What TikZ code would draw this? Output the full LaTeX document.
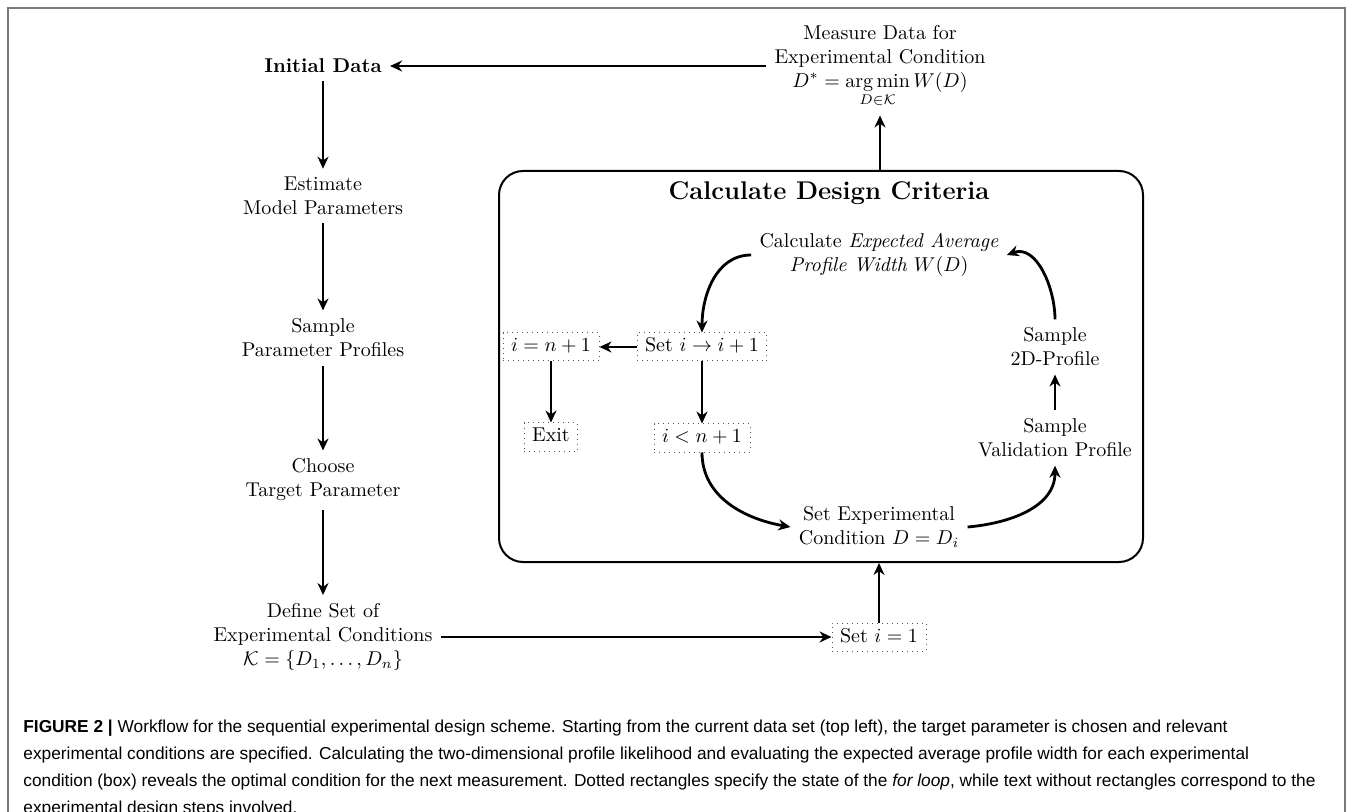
\documentclass[tikz,border=0pt]{standalone}
\usepackage{amsmath}
\usepackage{fontspec}
\newfontfamily\legende{Liberation Sans}
\definecolor{cadre}{HTML}{7A7A7A}
\definecolor{pointille}{HTML}{555555}
\usetikzlibrary{positioning,arrows.meta}

\begin{document}
\begin{tikzpicture}[x=0.5pt,y=-0.5pt,
  flow/.style={-{Stealth[length=6pt,width=5.5pt]},line width=1.4pt},
  etape/.style={align=center,inner sep=4pt},
  boucle/.style={draw=pointille,dotted,line width=0.5pt,inner xsep=4pt,inner ysep=0pt,
    minimum height=14pt,text height=7pt,text depth=2pt}
]
\useasboundingbox (0,0) rectangle (1354,812);
% ---- cadre ----
\draw[cadre,line width=0.8pt] (8,812) -- (8,8) -- (1345,8) -- (1345,812);
% ---- colonne de gauche ----
\node[etape,font=\bfseries] (init) at (323,66) {Initial Data};
\node[etape] (estimate) at (323,196) {Estimate\\Model Parameters};
\node[etape] (sample) at (323,338) {Sample\\Parameter Profiles};
\node[etape] (choose) at (323,480) {Choose\\Target Parameter};
\node[etape] (define) at (323,637) {Define Set of\\Experimental Conditions\\$\mathcal{K}=\{D_1,\dots,D_n\}$};
\node[etape] (measure) at (880,66) {Measure Data for\\Experimental Condition\\$D^*=\mathop{\mathrm{arg\,min}}\limits_{D\in\mathcal{K}}W(D)$};
\foreach \a/\b in {init/estimate, estimate/sample, sample/choose, choose/define}{
  \draw[flow] (\a) -- (\b);
}
% ---- boite des criteres ----
\node[draw,line width=1pt,rounded corners=12pt,minimum width=322pt,minimum height=195.5pt] (criteria) at (821,366.5) {};
\node[font=\fontsize{12.8}{15}\selectfont\bfseries] (titre) at (829,193) {Calculate Design Criteria};
\node[etape] (calc) at (879,255) {Calculate \textit{Expected Average}\\\textit{Profile Width} $W(D)$};
\node[boucle] (setnext) at (702,347) {Set $i\rightarrow i+1$};
\node[boucle] (stop) at (551,347) {$i=n+1$};
\node[boucle] (exitbox) at (551,437) {Exit};
\node[boucle] (cont) at (702,438) {$i<n+1$};
\node[etape] (setcond) at (879,527) {Set Experimental\\Condition $D=D_i$};
\node[etape] (valid) at (1055,438) {Sample\\Validation Profile};
\node[etape] (twod) at (1055,347) {Sample\\2D-Profile};
\node[boucle] (seti) at (879,637) {Set $i=1$};
% ---- fleches ----
\draw[flow] (define) -- (seti);
\draw[flow] (seti) -- (seti |- criteria.south);
\draw[flow] (criteria.north -| measure) -- (measure);
\draw[flow] (measure.west |- init) -- (init);
\draw[flow] (calc.west) to[out=180,in=90] (setnext);
\draw[flow] (setnext) -- (stop);
\draw[flow] (stop) -- (exitbox);
\draw[flow] (setnext) -- (cont);
\draw[flow] (cont) to[out=-90,in=170] (setcond.west);
\draw[flow] (setcond.east) to[out=5,in=-90] (valid);
\draw[flow] (valid) -- (twod);
\draw[flow] (twod) to[out=90,in=20] (calc.east);
% ---- legende ----
\node[anchor=north west,inner sep=0pt,align=left,font=\legende\fontsize{8.65}{13.4}\selectfont] (legende) at (23,720)
  {\textbf{FIGURE 2 |} Workflow for the sequential experimental design scheme. Starting from the current data set (top left), the target parameter is chosen and relevant\\
   experimental conditions are specified. Calculating the two-dimensional profile likelihood and evaluating the expected average profile width for each experimental\\
   condition (box) reveals the optimal condition for the next measurement. Dotted rectangles specify the state of the \textit{for loop}, while text without rectangles correspond to the\\
   experimental design steps involved.};
\end{tikzpicture}
\end{document}
